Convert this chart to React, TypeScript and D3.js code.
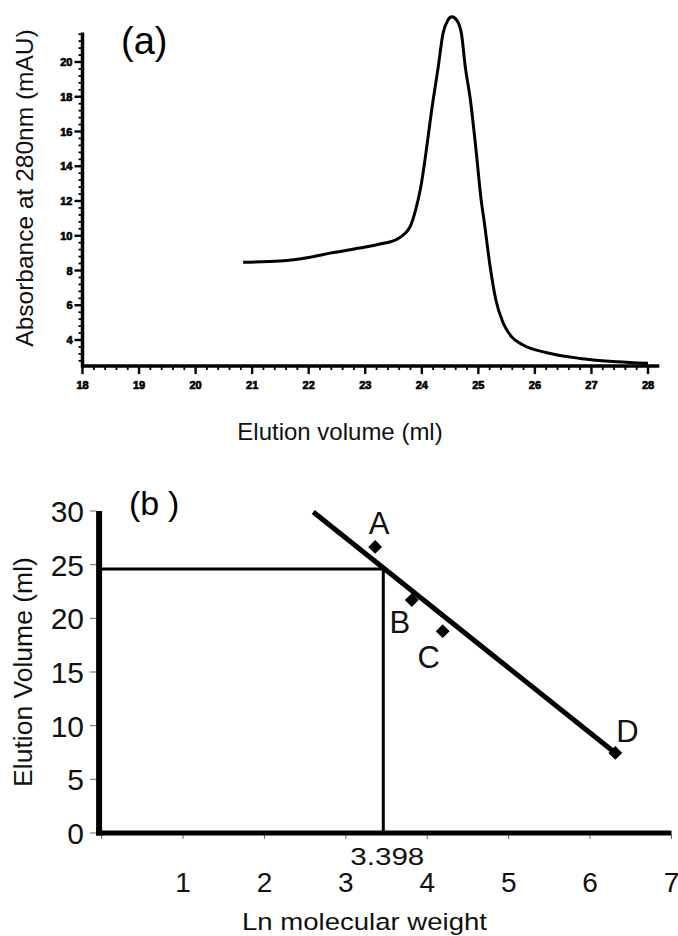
import React from "react";
import * as d3 from "d3";

// (a) elution profile
const elutionMl = [
  20.84, 21.5, 22.0, 22.38, 23.0, 23.3, 23.56, 23.79, 23.9, 23.97, 24.2, 24.29,
  24.375, 24.46, 24.53, 24.62, 24.7, 24.77, 24.86, 24.96, 25.05, 25.1, 25.21,
  25.31, 25.44, 25.59, 25.79, 26.21, 26.8, 27.45, 28.0,
];
const absorbance = [
  8.48, 8.55, 8.75, 9.0, 9.35, 9.55, 9.8, 10.5, 11.6, 12.6, 17.8, 19.7, 21.65,
  22.4, 22.6, 22.4, 21.65, 19.7, 17.8, 14.9, 12.05, 10.9, 8.19, 6.3, 4.97,
  4.18, 3.71, 3.27, 2.94, 2.75, 2.66,
];
const topXTicks = [18, 19, 20, 21, 22, 23, 24, 25, 26, 27, 28];
const topYTicks = [4, 6, 8, 10, 12, 14, 16, 18, 20];

// (b) calibration standards
const standardNames = ["A", "B", "C", "D"];
const lnMw = [3.36, 3.81, 4.19, 6.31];
const standardVolume = [26.65, 21.7, 18.8, 7.46];
const fitRange = [2.6, 6.31];
const fitSlope = -6.05;
const fitIntercept = 45.63;
const sampleLnMw = 3.46;
const sampleLabel = "3.398";
const sampleVolume = 24.6;
const bottomXTicks = [1, 2, 3, 4, 5, 6, 7];
const bottomYTicks = [0, 5, 10, 15, 20, 25, 30];

const font = "'Liberation Sans', Arial, sans-serif";

function PanelA() {
  const x = d3.scaleLinear().domain([18, 28]).range([82.5, 648]);
  const y = d3.scaleLinear().domain([4, 20]).range([340, 62]);
  const y0 = y(2.5);
  const x0 = x(18);

  const pts = elutionMl.map((v, i) => [v, absorbance[i]] as [number, number]);
  const path = d3
    .line<[number, number]>()
    .x((d) => x(d[0]))
    .y((d) => y(d[1]))
    .curve(d3.curveMonotoneX)(pts);

  const xMinor = d3.range(0, 51).map((i) => 18 + i * 0.2).filter((v) => Math.abs(v - Math.round(v)) > 0.01);
  const yMinor = d3
    .range(-3, 45)
    .map((i) => 4 + i * 0.4)
    .filter((v) => v > 2.6 && v < 21.7 && Math.abs(v / 2 - Math.round(v / 2)) > 0.01);

  return (
    <g>
      <text x={121} y={54} fontSize={38} fontFamily={font}>(a)</text>
      {/* axes */}
      <line x1={x0} x2={x(28.2)} y1={y0} y2={y0} stroke="#000" strokeWidth={3.5} />
      <line x1={x0} x2={x0} y1={y0 + 1.5} y2={y(21.7)} stroke="#000" strokeWidth={3.5} />
      {topXTicks.map((t) => (
        <g key={"xt" + t}>
          <line x1={x(t)} x2={x(t)} y1={y0} y2={y0 + 8} stroke="#000" strokeWidth={2.4} />
          <text
            x={x(t)}
            y={y0 + 23}
            textAnchor="middle"
            fontSize={11}
            fontWeight={900}
            stroke="#000"
            strokeWidth={0.7}
            fontFamily={font}
          >
            {t}
          </text>
        </g>
      ))}
      {xMinor.map((t, i) => (
        <line key={"xm" + i} x1={x(t)} x2={x(t)} y1={y0} y2={y0 + 4} stroke="#000" strokeWidth={1.8} />
      ))}
      {topYTicks.map((t) => (
        <g key={"yt" + t}>
          <line x1={x0} x2={x0 - 8} y1={y(t)} y2={y(t)} stroke="#000" strokeWidth={2.4} />
          <text
            x={x0 - 10}
            y={y(t) + 4}
            textAnchor="end"
            fontSize={11}
            fontWeight={900}
            stroke="#000"
            strokeWidth={0.7}
            fontFamily={font}
          >
            {t}
          </text>
        </g>
      ))}
      {yMinor.map((t, i) => (
        <line key={"ym" + i} x1={x0} x2={x0 - 4} y1={y(t)} y2={y(t)} stroke="#000" strokeWidth={1.8} />
      ))}
      <path d={path || ""} fill="none" stroke="#000" strokeWidth={3} strokeLinejoin="round" />
      <text x={340} y={440} textAnchor="middle" fontSize={24} fontFamily={font} fill="#111">
        Elution volume (ml)
      </text>
      <text
        transform="translate(33,188) rotate(-90)"
        textAnchor="middle"
        fontSize={24.5}
        fontFamily={font}
        fill="#111"
      >
        Absorbance at 280nm (mAU)
      </text>
    </g>
  );
}

function PanelB() {
  const x = d3.scaleLinear().domain([0, 7]).range([101.6, 671.5]);
  const y = d3.scaleLinear().domain([0, 30]).range([833, 511]);
  const axX = x(0) - 2.5;
  const axY = y(0);

  const fit = d3
    .line<number>()
    .x((v) => x(v))
    .y((v) => y(fitIntercept + fitSlope * v))(fitRange);

  const diamond = d3.symbol().type(d3.symbolSquare).size(95)();
  const labelShift: Record<string, [number, number]> = {
    A: [4, -24],
    B: [-12, 22],
    C: [-14, 26],
    D: [12, -22],
  };

  return (
    <g fontFamily={font}>
      <text x={129} y={515} fontSize={34}>(b</text>
      <text x={168} y={515} fontSize={34}>)</text>
      {/* guide lines to the unknown */}
      <line x1={axX} x2={x(sampleLnMw)} y1={y(sampleVolume)} y2={y(sampleVolume)} stroke="#000" strokeWidth={3} />
      <line x1={x(sampleLnMw)} x2={x(sampleLnMw)} y1={y(sampleVolume)} y2={axY} stroke="#000" strokeWidth={3} />
      <path d={fit || ""} fill="none" stroke="#000" strokeWidth={5} />
      {standardNames.map((n, i) => (
        <g key={n}>
          <path d={diamond || ""} transform={`translate(${x(lnMw[i])},${y(standardVolume[i])}) rotate(45)`} fill="#000" />
          <text
            x={x(lnMw[i]) + labelShift[n][0]}
            y={y(standardVolume[i]) + labelShift[n][1] + 11}
            textAnchor="middle"
            fontSize={31}
            fill="#111"
          >
            {n}
          </text>
        </g>
      ))}
      {/* axes */}
      {bottomYTicks.map((t) => (
        <g key={"yt" + t}>
          <line x1={axX - 9} x2={axX - 3} y1={y(t)} y2={y(t)} stroke="#666" strokeWidth={1} />
          <text x={84} y={y(t) + 11} textAnchor="end" fontSize={30} fill="#111">
            {t}
          </text>
        </g>
      ))}
      {[0, ...bottomXTicks].map((t) => (
        <line key={"xt" + t} x1={x(t)} x2={x(t)} y1={axY + 2} y2={axY + 6} stroke="#666" strokeWidth={1} />
      ))}
      {bottomXTicks.map((t) => (
        <text key={"xl" + t} x={x(t)} y={892} textAnchor="middle" fontSize={28} fill="#111">
          {t}
        </text>
      ))}
      <text x={x(sampleLnMw) + 4} y={865} textAnchor="middle" fontSize={24} textLength={74} lengthAdjust="spacingAndGlyphs" fill="#111">
        {sampleLabel}
      </text>
      <line x1={axX} x2={axX} y1={axY + 2.5} y2={y(30)} stroke="#000" strokeWidth={6} />
      <line x1={axX - 3} x2={x(7)} y1={axY} y2={axY} stroke="#000" strokeWidth={5} />
      <text x={364.5} y={930} textAnchor="middle" fontSize={24.5} textLength={245} lengthAdjust="spacingAndGlyphs" fill="#111">
        Ln molecular weight
      </text>
      <text transform="translate(32,672) rotate(-90)" textAnchor="middle" fontSize={26.5} fill="#111">
        Elution Volume (ml)
      </text>
    </g>
  );
}

export default function App() {
  return (
    <svg
      width={678}
      height={936}
      style={{ position: "absolute", left: 0, top: 0, background: "#fff" }}
    >
      <rect width={678} height={936} fill="#fff" />
      <PanelA />
      <PanelB />
    </svg>
  );
}
